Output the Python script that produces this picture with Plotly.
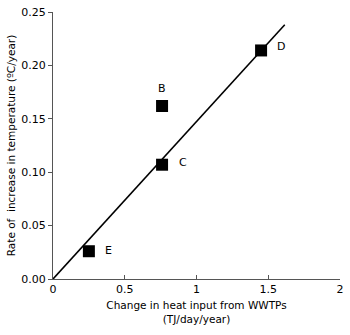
import plotly.graph_objects as go

labels = ["B", "C", "D", "E"]
heat_input = [0.76, 0.76, 1.45, 0.25]
temp_rate = [0.162, 0.107, 0.214, 0.026]

fit_x = [0.0, 1.615]
fit_y = [0.0, 0.238]

x_ticks = [0, 0.5, 1, 1.5, 2]
x_tick_text = ["0", "0.5", "1", "1.5", "2"]
y_ticks = [0, 0.05, 0.10, 0.15, 0.20, 0.25]
y_tick_text = ["0.00", "0.05", "0.10", "0.15", "0.20", "0.25"]

label_dx = {"B": 0, "C": 21, "D": 20, "E": 20}
label_dy = {"B": -17, "C": -2, "D": -4, "E": -1}

fig = go.Figure()
fig.add_trace(go.Scatter(x=fit_x, y=fit_y, mode="lines",
                         line=dict(color="black", width=1.6), showlegend=False))
fig.add_trace(go.Scatter(x=heat_input, y=temp_rate, mode="markers",
                         marker=dict(symbol="square", size=12, color="black"),
                         showlegend=False))
for lab, xv, yv in zip(labels, heat_input, temp_rate):
    fig.add_annotation(x=xv, y=yv, text=lab, showarrow=False,
                       xshift=label_dx[lab], yshift=-label_dy[lab],
                       font=dict(family="DejaVu Sans", size=11, color="black"))

fig.update_layout(
    width=350, height=335,
    margin=dict(l=53, r=6, t=8, b=56),
    plot_bgcolor="white", paper_bgcolor="white",
    font=dict(family="DejaVu Sans", size=11, color="black"),
)
fig.update_xaxes(range=[0, 2], tickvals=x_ticks, ticktext=x_tick_text,
                 showgrid=False, zeroline=False, showline=True,
                 linecolor="#555", linewidth=1, ticks="inside", ticklen=4,
                 tickcolor="#555", tickfont=dict(size=11),
                 title=dict(text="Change in heat input from WWTPs<br>(TJ/day/year)",
                            font=dict(size=10.5), standoff=6))
fig.update_yaxes(range=[0, 0.25], tickvals=y_ticks, ticktext=y_tick_text,
                 showgrid=False, zeroline=False, showline=True,
                 linecolor="#555", linewidth=1, ticks="outside", ticklen=4,
                 tickcolor="#555", tickfont=dict(size=11),
                 title=dict(text="Rate of  increase in temperature (ºC/year)",
                            font=dict(size=10.5), standoff=3))

fig.write_html("out.html")
